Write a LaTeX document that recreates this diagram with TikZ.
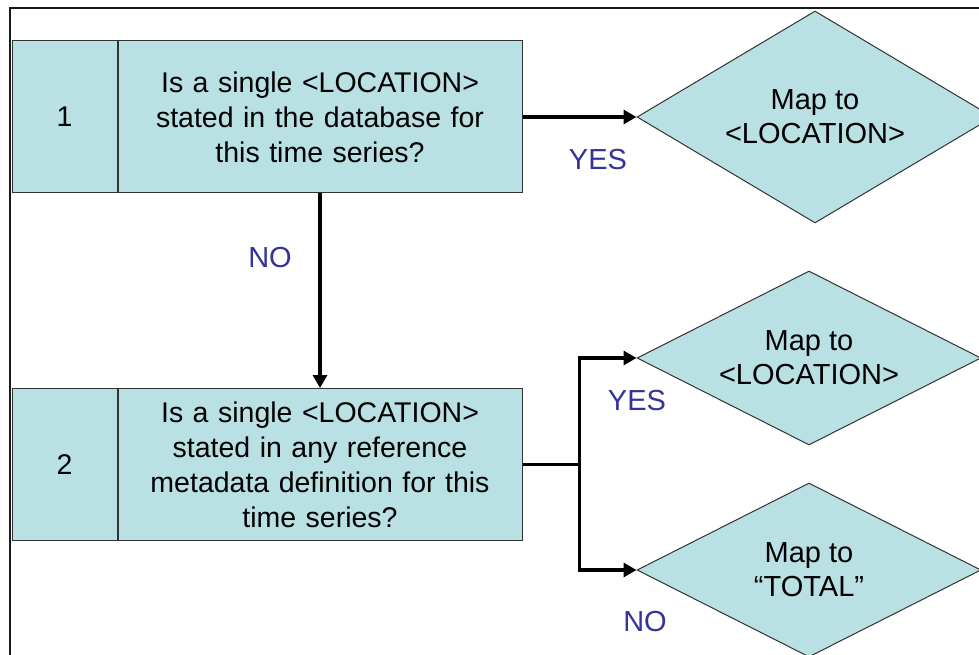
\documentclass[tikz,border=0pt]{standalone}
\usepackage{fontspec}
\setmainfont{Liberation Sans}
\usetikzlibrary{arrows.meta,positioning,shapes.geometric}
\definecolor{boxfill}{RGB}{185,224,227}
\definecolor{answerblue}{RGB}{51,51,153}

\begin{document}
\begin{tikzpicture}[x=1pt, y=-1pt, cell/.style = {draw=black!80, line width=1pt, fill=boxfill, minimum height=152pt, inner sep=0pt, align=center, font=\fontsize{28.5}{35}\selectfont}, numcell/.style = {cell, minimum width=105pt}, qcell/.style = {cell, minimum width=404pt, text width=390pt},
    mapd/.style = {diamond, draw=black!80, line width=1pt, fill=boxfill, aspect=1.68, minimum width=356pt, minimum height=212pt, inner sep=0pt, align=center, font=\fontsize{29}{34}\selectfont},
    flow/.style = {line width=3.8pt, -{Triangle[length=13pt, width=14pt]}},
    answer/.style = {text=answerblue, font=\fontsize{29}{30}\selectfont}]
      \clip (0,0) rectangle (979,655);
      \draw[line width=2pt, black!90] (10,655) -- (10,8) -- (979,8);

      \node [numcell] (numa) at (64.5,117) {1};
      \node [qcell, right=0pt of numa] (qa) {Is a single <LOCATION>\\stated in the database for\\this time series?};

      \node [numcell] (numb) at (64.5,464.5) {2};
      \node [qcell, right=0pt of numb] (qb) {Is a single <LOCATION>\\stated in any reference\\metadata definition for this\\time series?};

      \node [mapd] (mapa) at (815,117) {Map to\\<LOCATION>};
      \node [mapd, aspect=2, minimum width=344pt, minimum height=174pt] (mapb) at (809,358) {Map to\\<LOCATION>};
      \node [mapd, aspect=2, minimum width=344pt, minimum height=174pt] (mapc) at (809,570) {Map to\\“TOTAL”};

      \draw[flow] (qa) -- (mapa);
      \node[answer] (yesa) at (598,160) {YES};

      \draw[flow] (qa) -- (qb);
      \node[answer] (noa) at (270,258) {NO};

      \draw[line width=3.8pt] (qb.east) -- ++(57,0) coordinate (fork);
      \draw[flow] (fork) |- (mapb.west);
      \draw[flow] (fork) |- (mapc.west);
      \node[answer] (yesb) at (637,401) {YES};
      \node[answer] (nob) at (645,622) {NO};

      \end{tikzpicture}
\end{document}
